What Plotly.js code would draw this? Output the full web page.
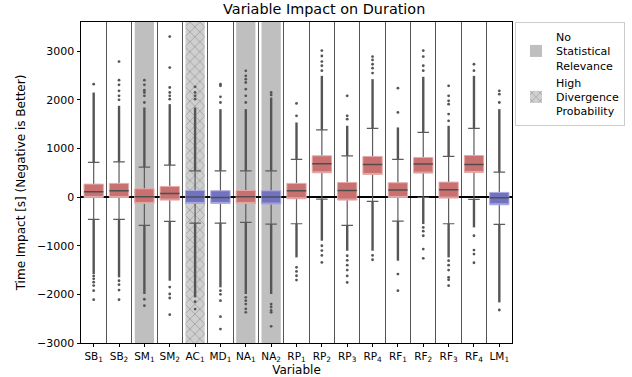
<!DOCTYPE html>
<html><head><meta charset="utf-8">
<script src="https://cdn.plot.ly/plotly-3.0.1.min.js"></script>
<style>html,body{margin:0;padding:0;background:#fff}</style>
</head><body>
<div id="chart" style="width:632px;height:377px"></div>
<script>
// ---- data ----
const variables = ['SB1','SB2','SM1','SM2','AC1','MD1','NA1','NA2','RP1','RP2','RP3','RP4','RF1','RF2','RF3','RF4','LM1'];
const q1      = [  -7,   -7, -130,  -62, -130, -130, -130, -144,  -34,  500,  -62,  466,   -7,  493,  -21,  507, -158];
const medians = [ 110,  130,    7,   75,    0,   -7,    7,    0,  130,  685,  137,  671,  144,  678,  151,  671,  -14];
const q3      = [ 267,  281,  171,  219,  137,  130,  137,  130,  281,  849,  301,  836,  295,  815,  308,  856,   96];
const lowerWhisker = [-459, -459, -582, -500, -534, -534, -520, -555, -548,  -41, -582,  -89, -493,   -7, -548,  -48, -562];
const upperWhisker = [ 712,  726,  616,  658,  541,  541,  541,  541,  774, 1384,  849, 1411,  774, 1329,  836, 1411,  514];
const denseOutlierTop    = [2150, 1877, 1842, 1911, 1842, 1808, 1808, 2048, 1534, 2493, 1466, 2425, 1432, 2473, 1466, 2493, 1808];
const denseOutlierBottom = [-1582,-1650,-1993,-1719,-2062,-1856,-1993,-1993,-1240, -897,-1103,-1103,-1308, -555,-1240, -623,-2165];
const highOutliers = [
  [2322],
  [2000, 2082, 2185, 2308, 2404, 2786],
  [1945, 2082, 2150, 2199, 2308, 2404],
  [2014, 2082, 2150, 2253, 2663, 3300],
  [2014, 2082, 2150, 2267],
  [1945, 2062, 2288, 2322],
  [1945, 2082, 2219, 2356, 2425, 2493, 2596],
  [2100, 2150],
  [1671, 1925],
  [2600, 2700, 2786, 2901, 3012],
  [1603, 1671, 2082],
  [2550, 2650, 2731, 2820, 2889],
  [1740, 2240],
  [2600, 2700, 2889, 3012],
  [1569, 1706, 1911, 1980, 2082, 2288],
  [2600, 2731],
  [1945, 2117, 2185]
];
const lowOutliers = [
  [-1620, -1680, -1750, -1820, -1925, -2110],
  [-1720, -1800, -1911, -2110],
  [-2100, -2233],
  [-1850, -1993, -2075, -2418],
  [-2150, -2302],
  [-1925, -2000, -2130, -2459, -2713],
  [-2060, -2130, -2200, -2300, -2370],
  [-2199, -2260, -2330, -2370, -2658],
  [-1445, -1528, -1617, -1706],
  [-1000, -1100, -1200, -1343],
  [-1206, -1300, -1400, -1500, -1620, -1754],
  [-1200, -1288],
  [-1582, -1925],
  [-623, -700, -795, -1069, -1260],
  [-1308, -1400, -1500, -1650, -1700, -1822],
  [-795, -1089, -1171, -1350],
  [-2322]
];
const boxGroup = ['pos','pos','pos','pos','neg','neg','pos','neg','pos','pos','pos','pos','pos','pos','pos','pos','neg'];
const noRelevanceVars = ['SM1','NA1','NA2'];
const highDivergenceVars = ['AC1'];
const yTicks = [-3000, -2000, -1000, 0, 1000, 2000, 3000];
const yRange = [-3000, 3600];

// ---- build traces ----
const idx = variables.map((_, i) => i);
const tickText = variables.map(v => v.replace(/^([A-Z]+)(\d+)$/, '$1<sub>$2</sub>'));
const pick = (arr, ids) => ids.map(i => arr[i]);
const BW = 0.76;

const noRelIdx = noRelevanceVars.map(v => variables.indexOf(v));
const highDivIdx = highDivergenceVars.map(v => variables.indexOf(v));
const span = yRange[1] - yRange[0];

const traces = [];
traces.push({
  type: 'bar', name: 'No<br>Statistical<br>Relevance', x: noRelIdx,
  y: noRelIdx.map(() => span), base: noRelIdx.map(() => yRange[0]), width: BW,
  marker: {color: '#bfbfbf', line: {width: 0}}, hoverinfo: 'skip'
});
traces.push({
  type: 'bar', name: 'High<br>Divergence<br>Probability', x: highDivIdx,
  y: highDivIdx.map(() => span), base: highDivIdx.map(() => yRange[0]), width: BW,
  marker: {color: '#cfcfcf', line: {width: 0},
    pattern: {shape: 'x', fgcolor: '#a6a6a6', bgcolor: '#cfcfcf', size: 7, solidity: 0.25}},
  hoverinfo: 'skip'
});

// whiskers + caps
traces.push({
  type: 'box', x: idx, q1: medians, median: medians, q3: medians,
  lowerfence: lowerWhisker, upperfence: upperWhisker, width: BW, whiskerwidth: 0.6,
  line: {color: '#5c5c5c', width: 1.2}, fillcolor: 'rgba(0,0,0,0)', boxpoints: false,
  showlegend: false, hoverinfo: 'skip'
});

// box bodies
const groups = {pos: {fill: '#c97070', edge: '#e6aaaa'}, neg: {fill: '#7272c2', edge: '#ababdd'}};
Object.keys(groups).forEach(g => {
  const ids = idx.filter(i => boxGroup[i] === g);
  traces.push({
    type: 'box', x: ids, q1: pick(q1, ids), median: pick(q1, ids), q3: pick(q3, ids),
    lowerfence: pick(q1, ids), upperfence: pick(q3, ids), width: BW, whiskerwidth: 0,
    line: {color: groups[g].edge, width: 1}, fillcolor: groups[g].fill, boxpoints: false,
    showlegend: false, hoverinfo: 'skip'
  });
});

// median lines
traces.push({
  type: 'box', x: idx, q1: medians, median: medians, q3: medians,
  lowerfence: medians, upperfence: medians, width: BW, whiskerwidth: 0,
  line: {color: '#4e4e4e', width: 1.5}, fillcolor: 'rgba(0,0,0,0)', boxpoints: false,
  showlegend: false, hoverinfo: 'skip'
});

// dense outlier runs
const dx = [], dy = [];
idx.forEach(i => {
  dx.push(i, i, null, i, i, null);
  dy.push(upperWhisker[i], denseOutlierTop[i], null, lowerWhisker[i], denseOutlierBottom[i], null);
});
traces.push({type: 'scatter', mode: 'lines', x: dx, y: dy, line: {color: '#555555', width: 2.4},
  showlegend: false, hoverinfo: 'skip', connectgaps: false});

// sparse outliers
const ox = [], oy = [];
idx.forEach(i => {
  highOutliers[i].concat(lowOutliers[i]).forEach(v => { ox.push(i); oy.push(v); });
});
traces.push({type: 'scatter', mode: 'markers', x: ox, y: oy,
  marker: {color: '#555555', size: 2.8, line: {width: 0}}, showlegend: false, hoverinfo: 'skip'});

const bounds = idx.slice(0, -1).map(i => i + 0.5);

const layout = {
  width: 632, height: 377,
  margin: {l: 81, r: 120, t: 22, b: 34, pad: 0},
  paper_bgcolor: '#ffffff', plot_bgcolor: '#ffffff',
  font: {family: 'DejaVu Sans', color: '#000000', size: 11},
  title: {text: 'Variable Impact on Duration', font: {size: 14.4, color: '#000'},
    x: 0.513, xref: 'container', xanchor: 'center', y: 0.975, yref: 'container', yanchor: 'middle'},
  barmode: 'overlay', boxmode: 'overlay',
  showlegend: true,
  legend: {x: 515 / 632, y: 1 - 22 / 377, xref: 'container', yref: 'container',
    xanchor: 'left', yanchor: 'top', bordercolor: '#cccccc', borderwidth: 1,
    bgcolor: '#ffffff', font: {size: 11}, valign: 'middle', tracegroupgap: 0, itemwidth: 30},
  xaxis: {
    range: [-0.5, 16.5], tickmode: 'array', tickvals: idx, ticktext: tickText,
    ticks: 'outside', ticklen: 3, tickwidth: 1, tickcolor: '#000',
    showline: true, mirror: true, linecolor: '#000', linewidth: 1,
    showgrid: false, zeroline: false, tickfont: {size: 10.5},
    minor: {tickmode: 'array', tickvals: bounds, showgrid: true, gridcolor: '#555555', gridwidth: 1, ticks: ''},
    title: {text: 'Variable', font: {size: 12}, standoff: 9}
  },
  yaxis: {
    range: yRange, tickmode: 'array', tickvals: yTicks,
    ticks: 'outside', ticklen: 3.5, tickwidth: 1, tickcolor: '#000',
    showline: true, mirror: true, linecolor: '#000', linewidth: 1,
    showgrid: false, zeroline: true, zerolinecolor: '#000', zerolinewidth: 1.5,
    tickfont: {size: 11},
    title: {text: 'Time Impact [s] (Negative is Better)', font: {size: 12}, standoff: 8}
  }
};

Plotly.newPlot('chart', traces, layout, {displayModeBar: false, staticPlot: true});
</script>
</body></html>
